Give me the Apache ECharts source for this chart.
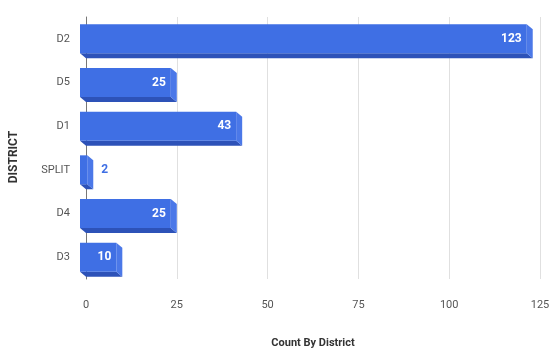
<!DOCTYPE html>
<html>
<head>
<meta charset="utf-8">
<style>html,body{margin:0;padding:0;background:#fff}#c{width:553px;height:354px}</style>
<script src="https://cdn.jsdelivr.net/npm/echarts@6/dist/echarts.min.js"></script>
</head>
<body>
<div id="c"></div>
<script>
const categories = ['D2', 'D5', 'D1', 'SPLIT', 'D4', 'D3'];
const counts = [123, 25, 43, 2, 25, 10];
const xTicks = [0, 25, 50, 75, 100, 125];

const chart = echarts.init(document.getElementById('c'));
const DX = 6, DY = 5, HALF = 14.5;
const FRONT = '#3f6fe4', BOTTOM = '#2d52b8', SIDE = '#4b78e8';

chart.setOption({
  animation: false,
  grid: { left: 83, right: 13, top: 17, bottom: 60, containLabel: false },
  xAxis: {
    type: 'value', min: 0, max: 125, interval: 25,
    name: 'Count By District', nameLocation: 'middle', nameGap: 59,
    nameTextStyle: { fontFamily: 'Roboto', fontWeight: 'bold', fontSize: 11, color: '#333' },
    axisLine: { show: false }, axisTick: { show: false },
    axisLabel: { fontFamily: 'Roboto', fontSize: 11, color: '#555', margin: 21,
      formatter: v => xTicks.includes(v) ? String(v) : '' },
    splitLine: { show: true, lineStyle: { color: '#e0e0e0', width: 1 } }
  },
  yAxis: {
    type: 'category', data: categories, inverse: true,
    name: 'DISTRICT', nameLocation: 'middle', nameGap: 66,
    nameTextStyle: { fontFamily: 'Roboto', fontWeight: 'bold', fontSize: 12, color: '#333', padding: [0, 18, 0, 0] },
    axisLine: { show: true, lineStyle: { color: '#777', width: 1 } },
    axisTick: { show: false },
    axisLabel: { fontFamily: 'Roboto', fontSize: 11, color: '#555', margin: 16 },
    splitLine: { show: false }
  },
  series: [{
    type: 'custom',
    data: counts.map((v, i) => [v, i]),
    encode: { x: 0, y: 1 },
    z: 5,
    renderItem: function (params, api) {
      const v = api.value(0), idx = api.value(1);
      const p0 = api.coord([0, idx]);
      const p1 = api.coord([v, idx]);
      const yc = p0[1];
      const fx0 = p0[0] - DX, fx1 = p1[0] - DX;
      const fy0 = yc - HALF, fy1 = yc + HALF;
      const inside = v >= 8;
      return {
        type: 'group',
        children: [
          { type: 'polygon', shape: { points: [[fx0, fy1], [fx1, fy1], [fx1 + DX, fy1 + DY], [fx0 + DX, fy1 + DY]] }, style: { fill: BOTTOM } },
          { type: 'polygon', shape: { points: [[fx1, fy0], [fx1 + DX, fy0 + DY], [fx1 + DX, fy1 + DY], [fx1, fy1]] }, style: { fill: SIDE } },
          { type: 'rect', shape: { x: fx0, y: fy0, width: fx1 - fx0, height: fy1 - fy0 }, style: { fill: FRONT } },
          { type: 'text', style: {
              text: String(v),
              x: inside ? fx1 - 5 : fx1 + DX + 8,
              y: yc,
              align: inside ? 'right' : 'left',
              verticalAlign: 'middle',
              fill: inside ? '#ffffff' : FRONT,
              font: 'bold 12px Roboto'
            } }
        ]
      };
    }
  }]
});
</script>
</body>
</html>
